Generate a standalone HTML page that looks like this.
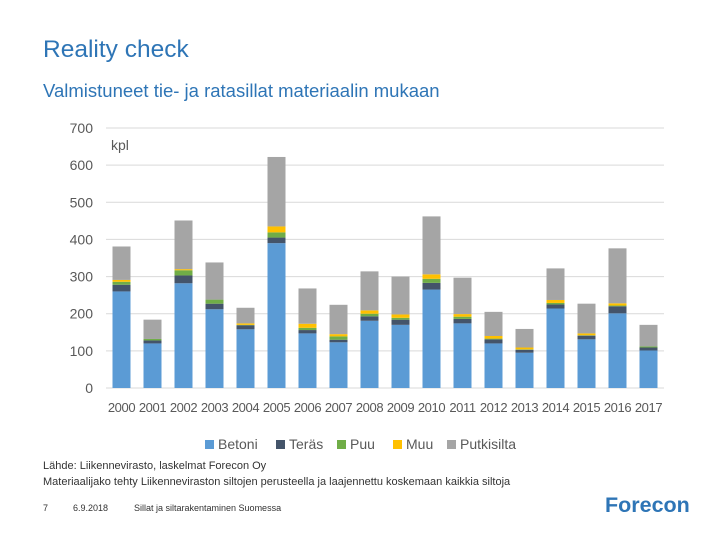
<!DOCTYPE html>
<html><head><meta charset="utf-8"><style>
body{margin:0;width:720px;height:540px;background:#fff;font-family:"Liberation Sans",sans-serif;position:relative;overflow:hidden}
.t{position:absolute;white-space:nowrap}
</style></head><body>
<div class="t" style="left:43px;top:36px;font-size:24.5px;color:#2e75b6">Reality check</div>
<div class="t" style="left:43px;top:80px;font-size:18.5px;color:#2e75b6">Valmistuneet tie- ja ratasillat materiaalin mukaan</div>
<svg id="chart" width="720" height="540" style="position:absolute;left:0;top:0"></svg>
<div class="t" style="left:43px;top:460px;font-size:11px;color:#333">Lähde: Liikennevirasto, laskelmat Forecon Oy</div>
<div class="t" style="left:43px;top:476px;font-size:11px;color:#333">Materiaalijako tehty Liikenneviraston siltojen perusteella ja laajennettu koskemaan kaikkia siltoja</div>
<div class="t" style="left:43px;top:503px;font-size:9px;color:#333">7</div>
<div class="t" style="left:73px;top:503px;font-size:9px;color:#333">6.9.2018</div>
<div class="t" style="left:134px;top:503px;font-size:9px;color:#333">Sillat ja siltarakentaminen Suomessa</div>
<div class="t" style="left:605px;top:493px;font-size:21.5px;font-weight:bold;color:#2e75b6">Forecon</div>
<script>
const years=["2000","2001","2002","2003","2004","2005","2006","2007","2008","2009","2010","2011","2012","2013","2014","2015","2016","2017"];
const betoni=[260,120,282,212,158,390,147,123,181,170,265,174,120,95,214,131,201,101];
const teras=[18,8,21,15,11,15,9,7,12,14,18,12,11,8,11,10,19,8];
const puu=[8,4,14,11,1,14,6,9,7,5,11,6,2,1,4,1,2,3];
const muu=[5,0,3,0,4,16,11,6,9,9,12,7,7,5,8,5,6,0];
const putkisilta=[90,52,131,100,42,187,95,79,105,102,156,98,65,50,85,80,148,58];
const seriesNames=["Betoni","Teräs","Puu","Muu","Putkisilta"];
const yTicks=[0,100,200,300,400,500,600,700];
const colors=["#5b9bd5","#44546a","#70ad47","#ffc000","#a5a5a5"];
const svg=document.getElementById('chart');const NS="http://www.w3.org/2000/svg";
const x0=106,x1=664,y0=388,y1=128,ymax=700;
const band=(x1-x0)/years.length;
const ys=v=>y0-(v/ymax)*(y0-y1);
function mk(t,a){const e=document.createElementNS(NS,t);for(const k in a)e.setAttribute(k,a[k]);svg.appendChild(e);return e;}
yTicks.forEach(v=>{
 const l=mk('line',{x1:x0,x2:x1,y1:ys(v),y2:ys(v),stroke:'#d9d9d9','stroke-width':1});
 
 
 const t=mk('text',{x:93,y:ys(v)+5,'text-anchor':'end','font-size':14,fill:'#595959'});t.textContent=v;
 
 
});
const kpl=mk('text',{x:111,y:150,'font-size':14,fill:'#595959'});kpl.textContent='kpl';


const all=[betoni,teras,puu,muu,putkisilta];
years.forEach((yr,i)=>{
 const cx=x0+band*(i+0.5);let acc=0;
 all.forEach((s,j)=>{
  const v=s[i];if(v<=0)return;
  const r=mk('rect',{x:cx-9,width:18,y:ys(acc+v),height:ys(acc)-ys(acc+v),fill:colors[j]});
  
  
  acc+=v;
 });
 const t=mk('text',{x:cx,y:412,'text-anchor':'middle','font-size':13,fill:'#595959','letter-spacing':'-0.4'});t.textContent=yr;
 
 
});
const lx=[205,276,337,393,447];
seriesNames.forEach((n,j)=>{
 const r=mk('rect',{x:lx[j],y:440,width:9,height:9,fill:colors[j]});
 
 
 const t=mk('text',{x:lx[j]+13,y:449,'font-size':14,fill:'#595959'});t.textContent=n;
 
 
});
</script>
</body></html>
